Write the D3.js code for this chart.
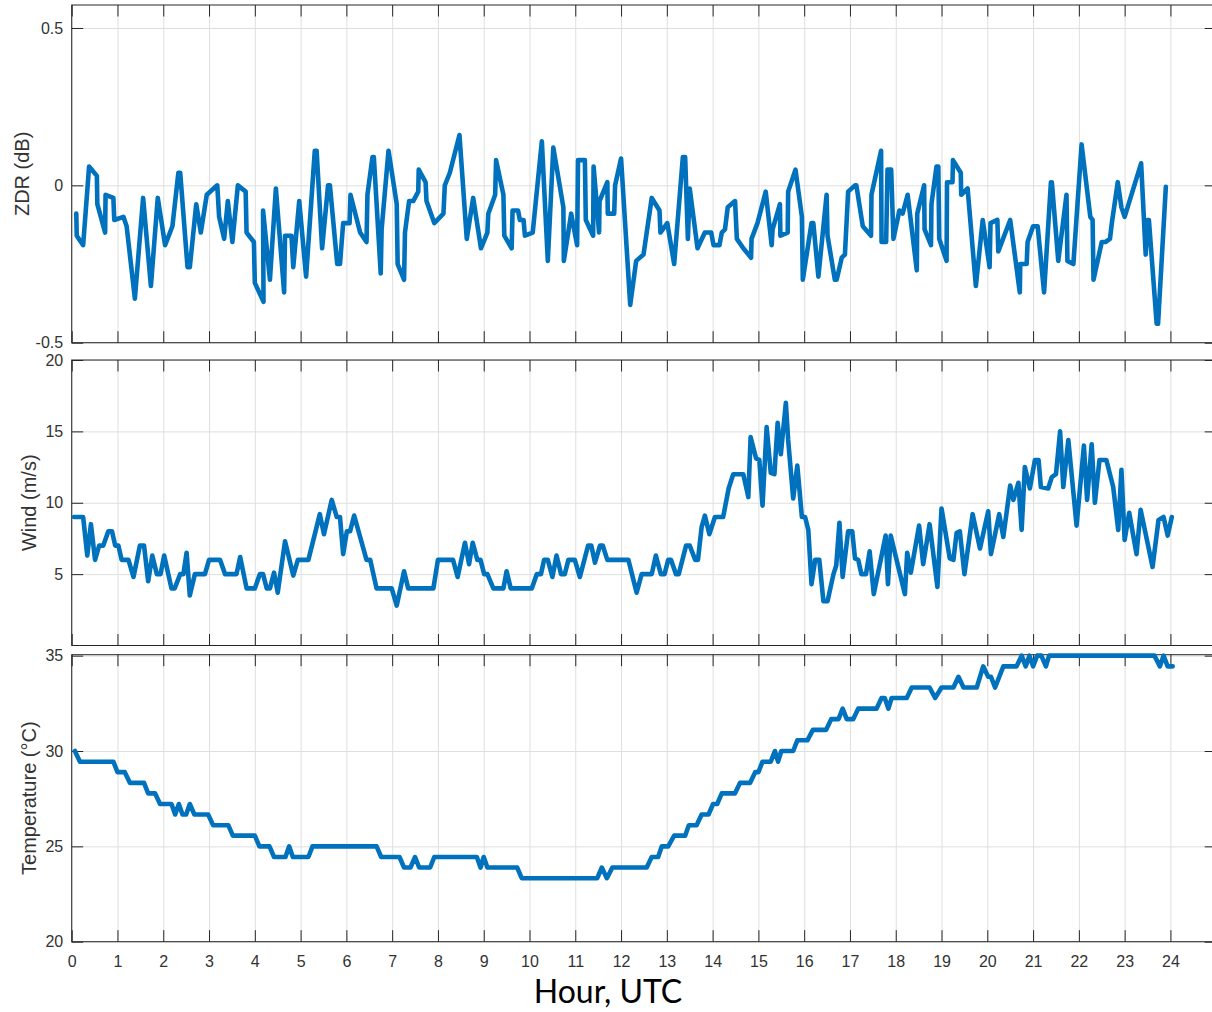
<!DOCTYPE html>
<html>
<head>
<meta charset="utf-8">
<script src="https://cdn.jsdelivr.net/npm/d3@7"></script>
<style>
  body { margin: 0; background: #fff; }
  svg { display: block; }
</style>
</head>
<body>
<svg id="chart" width="1212" height="1012"></svg>
<script>
// ---- data ---------------------------------------------------------------
const hourTicks = [0, 1, 2, 3, 4, 5, 6, 7, 8, 9, 10, 11, 12, 13, 14, 15, 16, 17, 18, 19, 20, 21, 22, 23, 24];
const zdrTicks  = [-0.5, 0, 0.5];
const windTicks = [5, 10, 15, 20];
const tempTicks = [20, 25, 30, 35];

// differential reflectivity (dB)
const zdrHours = [0.10,0.11,0.25,0.38,0.55,0.56,0.73,0.74,0.91,0.93,1.13,1.20,1.38,1.56,1.73,1.88,2.04,2.20,2.33,2.37,2.53,2.58,2.72,2.82,2.95,3.18,3.22,3.33,3.41,3.51,3.63,3.80,3.82,3.98,4.00,4.19,4.18,4.33,4.46,4.64,4.66,4.80,4.84,4.97,5.12,5.31,5.35,5.47,5.60,5.64,5.80,5.86,5.93,6.07,6.09,6.30,6.44,6.46,6.57,6.60,6.75,6.77,6.92,7.10,7.12,7.26,7.28,7.37,7.46,7.57,7.58,7.73,7.75,7.92,8.12,8.15,8.26,8.47,8.63,8.77,8.94,9.08,9.10,9.25,9.27,9.43,9.45,9.61,9.63,9.75,9.79,9.87,9.90,10.07,10.27,10.40,10.52,10.74,10.75,10.91,11.04,11.06,11.21,11.23,11.39,11.40,11.52,11.53,11.70,11.71,11.85,11.87,12.00,12.20,12.33,12.49,12.56,12.67,12.84,12.86,13.01,13.16,13.35,13.40,13.46,13.50,13.67,13.83,13.97,14.02,14.15,14.20,14.27,14.33,14.49,14.53,14.67,14.84,14.85,14.98,15.16,15.29,15.31,15.47,15.48,15.64,15.65,15.81,15.95,15.97,16.16,16.20,16.31,16.49,16.51,16.67,16.71,16.82,16.89,16.96,17.11,17.14,17.28,17.46,17.47,17.68,17.69,17.79,17.82,17.90,17.95,18.08,18.15,18.26,18.46,18.47,18.62,18.63,18.77,18.78,18.89,18.93,18.95,19.11,19.12,19.24,19.25,19.42,19.43,19.57,19.75,19.90,20.05,20.07,20.22,20.24,20.50,20.71,20.72,20.86,20.88,21.00,21.10,21.24,21.39,21.41,21.55,21.73,21.75,21.88,22.06,22.25,22.30,22.32,22.50,22.58,22.68,22.72,22.85,22.93,23.00,23.17,23.36,23.46,23.50,23.53,23.70,23.73,23.90];
const zdrValues = [-0.09,-0.16,-0.19,0.06,0.03,-0.06,-0.15,-0.03,-0.04,-0.11,-0.10,-0.13,-0.36,-0.04,-0.32,-0.04,-0.19,-0.13,0.04,0.04,-0.26,-0.26,-0.06,-0.15,-0.03,0.00,-0.10,-0.17,-0.05,-0.18,0.00,-0.02,-0.15,-0.18,-0.31,-0.37,-0.08,-0.30,-0.01,-0.34,-0.16,-0.16,-0.26,-0.05,-0.29,0.11,0.11,-0.20,0.00,0.00,-0.25,-0.25,-0.12,-0.12,-0.03,-0.15,-0.18,-0.03,0.09,0.09,-0.28,-0.14,0.11,-0.06,-0.25,-0.30,-0.15,-0.05,-0.05,-0.02,0.05,0.01,-0.05,-0.12,-0.09,0.00,0.04,0.16,-0.17,-0.04,-0.20,-0.15,-0.09,-0.03,0.08,-0.03,-0.16,-0.20,-0.08,-0.08,-0.11,-0.11,-0.16,-0.15,0.14,-0.24,0.12,-0.07,-0.24,-0.09,-0.19,0.08,0.08,-0.11,-0.16,0.06,-0.15,-0.05,0.01,-0.09,-0.09,0.00,0.085,-0.38,-0.24,-0.22,-0.15,-0.04,-0.08,-0.15,-0.12,-0.25,0.09,0.09,-0.17,-0.01,-0.20,-0.15,-0.15,-0.19,-0.19,-0.15,-0.14,-0.07,-0.05,-0.17,-0.20,-0.23,-0.17,-0.12,-0.02,-0.19,-0.14,-0.06,-0.16,-0.15,-0.02,0.05,-0.10,-0.30,-0.12,-0.12,-0.29,-0.03,-0.16,-0.30,-0.30,-0.23,-0.22,-0.02,0.00,0.00,-0.13,-0.16,-0.03,0.11,-0.18,-0.18,0.05,0.05,-0.17,-0.08,-0.09,-0.03,-0.27,-0.09,0.00,-0.14,-0.19,-0.06,0.06,0.06,-0.17,-0.24,0.01,0.01,0.08,0.04,-0.03,-0.01,-0.32,-0.11,-0.26,-0.12,-0.11,-0.21,-0.11,-0.34,-0.25,-0.25,-0.18,-0.13,-0.13,-0.34,0.01,0.01,-0.24,-0.03,-0.24,-0.25,0.13,-0.10,-0.11,-0.30,-0.18,-0.18,-0.17,-0.12,0.01,-0.07,-0.10,-0.02,0.07,-0.22,-0.11,-0.11,-0.44,-0.44,-0.005];

// wind speed (m/s)
const windHours = [0.05,0.25,0.34,0.42,0.51,0.60,0.69,0.80,0.88,0.95,1.02,1.09,1.24,1.35,1.49,1.58,1.67,1.76,1.86,1.94,2.02,2.18,2.25,2.37,2.44,2.51,2.58,2.69,2.91,3.00,3.24,3.35,3.60,3.68,3.82,4.00,4.11,4.18,4.26,4.33,4.42,4.50,4.66,4.84,4.94,5.17,5.42,5.51,5.68,5.79,5.86,5.93,6.01,6.08,6.17,6.44,6.52,6.66,6.99,7.10,7.26,7.35,7.90,8.00,8.33,8.43,8.59,8.68,8.76,8.86,8.93,9.01,9.08,9.21,9.43,9.50,9.59,10.05,10.16,10.25,10.32,10.40,10.50,10.59,10.69,10.77,10.85,10.99,11.10,11.28,11.35,11.43,11.54,11.60,11.70,12.16,12.34,12.45,12.67,12.76,12.87,12.95,13.03,13.09,13.20,13.26,13.42,13.50,13.62,13.68,13.76,13.83,13.93,14.05,14.23,14.35,14.45,14.67,14.78,14.83,14.95,15.02,15.09,15.18,15.27,15.35,15.42,15.49,15.60,15.65,15.76,15.85,15.95,16.02,16.09,16.16,16.24,16.33,16.42,16.51,16.64,16.70,16.77,16.84,16.96,17.05,17.11,17.18,17.25,17.35,17.43,17.52,17.78,17.83,17.89,18.20,18.25,18.33,18.51,18.60,18.74,18.91,19.00,19.18,19.26,19.33,19.40,19.50,19.68,19.84,20.02,20.08,20.26,20.35,20.50,20.57,20.68,20.75,20.82,20.93,21.04,21.12,21.17,21.33,21.41,21.50,21.59,21.66,21.77,21.95,22.11,22.18,22.28,22.35,22.45,22.60,22.75,22.86,22.93,23.00,23.10,23.26,23.35,23.61,23.74,23.85,23.94,24.03];
const windValues = [9,9,6.3,8.5,6.0,7,7,8,8,7,7,6,6,4.8,7,7,4.5,6.3,5,5,6.3,4,4,5,5,6.5,3.5,5,5,6,6,5,5,6.2,4,4,5,5,4,4,5.1,3.7,7.3,4.9,6,6,9.2,7.8,10.2,9,9,6.4,8,8,9.1,6,6,4,4,2.8,5.2,4,4,6,6,4.8,7.2,5.7,7.2,6,6,5,5,4,4,5.2,4,4,5,5,6,6,4.8,6.3,5,5,6,6,4.8,7,7,5.8,7,7,6,6,3.7,5,5,6.3,5,5,6,6,5,5,7,7,6,6,8.3,9.1,7.8,9,9,11,12,12,10.4,14.6,13.1,13,9.8,15.3,12.1,12,15.6,13.4,17.0,14.4,10.3,12.6,9,9,8.1,4.3,6,6,3.1,3.1,5,5.6,8.6,4.8,8,8,6.1,6,5,5,6.6,3.6,7.7,4.3,7.7,3.6,6.5,5.1,8.4,5.7,8.5,4.1,9.6,6.1,6,7.9,8,5,9.2,6.8,9.4,6.4,9.2,7.6,11.2,10.2,11.4,8.1,12.5,11.0,13,13,11.1,11,11.8,12,15,11.1,14.4,8.4,14.0,10.2,14.1,10,13,13,11.1,8.1,12.3,7.4,9.3,6.4,9.5,5.5,8.8,9,7.7,9];

// air temperature (deg C)
const tempHours = [0.07,0.18,0.91,1.00,1.16,1.27,1.58,1.67,1.82,1.93,2.18,2.26,2.34,2.42,2.50,2.58,2.68,2.98,3.09,3.42,3.52,4.00,4.10,4.32,4.42,4.67,4.75,4.83,5.17,5.26,6.66,6.76,7.16,7.26,7.40,7.50,7.59,7.83,7.92,8.85,8.93,9.00,9.08,9.73,9.83,11.48,11.58,11.69,11.81,12.56,12.67,12.81,12.89,13.03,13.16,13.40,13.48,13.65,13.76,13.91,14.01,14.10,14.20,14.49,14.60,14.82,14.93,15.00,15.09,15.27,15.36,15.43,15.50,15.76,15.85,16.07,16.19,16.48,16.59,16.75,16.84,16.93,17.07,17.18,17.58,17.69,17.76,17.84,17.91,18.24,18.35,18.74,18.86,19.00,19.26,19.37,19.48,19.77,19.91,20.02,20.08,20.17,20.35,20.64,20.75,20.84,20.92,21.00,21.09,21.18,21.28,21.35,23.65,23.77,23.85,23.94,24.05];
const tempValues = [30.0,29.44,29.44,28.89,28.89,28.33,28.33,27.78,27.78,27.22,27.22,26.67,27.22,26.67,26.67,27.22,26.67,26.67,26.11,26.11,25.56,25.56,25.0,25.0,24.44,24.44,25.0,24.44,24.44,25.0,25.0,24.44,24.44,23.89,23.89,24.44,23.89,23.89,24.44,24.44,23.89,24.44,23.89,23.89,23.33,23.33,23.89,23.33,23.89,23.89,24.44,24.44,25.0,25.0,25.56,25.56,26.11,26.11,26.67,26.67,27.22,27.22,27.78,27.78,28.33,28.33,28.89,28.89,29.44,29.44,30.0,29.44,30.0,30.0,30.56,30.56,31.11,31.11,31.67,31.67,32.22,31.67,31.67,32.22,32.22,32.78,32.78,32.22,32.78,32.78,33.33,33.33,32.78,33.33,33.33,33.89,33.33,33.33,34.44,33.89,33.89,33.33,34.44,34.44,35.0,34.44,35.0,34.44,35.0,35.0,34.44,35.0,35.0,34.44,35.0,34.44,34.44];

// ---- layout -------------------------------------------------------------
const svg = d3.select("#chart");
const plotLeft = 71.7, plotRight = 1216.2;
const x = d3.scaleLinear().domain([0, 25]).range([plotLeft, plotRight]);

const lineColor = "#0072BD";
const axisColor = "#262626";
const gridColor = "#dfdfdf";
const tickLen = 11.5;
const tickFont = "Liberation Sans, Arial, Helvetica, sans-serif";

const panels = [
  { label: "ZDR (dB)",         hours: zdrHours,  values: zdrValues,  ticks: zdrTicks,
    domain: [-0.5, 0.573], top: 5,     bottom: 342.7, labelX: 28.5, fmt: d => d === 0 ? "0" : String(d) },
  { label: "Wind (m/s)",       hours: windHours, values: windValues, ticks: windTicks,
    domain: [0, 20],       top: 360,   bottom: 645.5, labelX: 35.5, fmt: d => String(d) },
  { label: "Temperature (\u00B0C)", hours: tempHours, values: tempValues, ticks: tempTicks,
    domain: [20, 35.05],   top: 654.7, bottom: 941.7, labelX: 35.5, fmt: d => String(d) }
];

panels.forEach((p, i) => {
  const y = d3.scaleLinear().domain(p.domain).range([p.bottom, p.top]);
  const g = svg.append("g");
  const w = plotRight - plotLeft, h = p.bottom - p.top;
  const isLast = i === panels.length - 1;

  // grid
  g.append("g")
    .attr("transform", `translate(0,${p.bottom})`)
    .call(d3.axisBottom(x).tickValues(hourTicks).tickSize(-h).tickFormat(""))
    .call(s => s.select(".domain").remove())
    .call(s => s.selectAll("line").attr("stroke", gridColor).attr("stroke-width", 1));
  g.append("g")
    .attr("transform", `translate(${plotLeft},0)`)
    .call(d3.axisLeft(y).tickValues(p.ticks).tickSize(-w).tickFormat(""))
    .call(s => s.select(".domain").remove())
    .call(s => s.selectAll("line").attr("stroke", gridColor).attr("stroke-width", 1));

  // inward ticks on all four sides
  const styleAxis = s => {
    s.select(".domain").remove();
    s.selectAll("line").attr("stroke", axisColor).attr("stroke-width", 1);
    s.selectAll("text").attr("fill", "#333").style("font-family", tickFont).style("font-size", "16px");
  };
  g.append("g")
    .attr("transform", `translate(0,${p.bottom})`)
    .call(d3.axisBottom(x).tickValues(hourTicks).tickSizeInner(-tickLen).tickSizeOuter(0)
      .tickPadding(isLast ? 13.5 : 0).tickFormat(isLast ? d => String(d) : ""))
    .call(styleAxis);
  g.append("g")
    .attr("transform", `translate(0,${p.top})`)
    .call(d3.axisTop(x).tickValues(hourTicks).tickSizeInner(-tickLen).tickSizeOuter(0).tickFormat(""))
    .call(styleAxis);
  g.append("g")
    .attr("transform", `translate(${plotLeft},0)`)
    .call(d3.axisLeft(y).tickValues(p.ticks).tickSizeInner(-tickLen).tickSizeOuter(0).tickFormat(p.fmt))
    .call(styleAxis)
    .call(s => s.selectAll("text").attr("x", -8.5));
  g.append("g")
    .attr("transform", `translate(${plotRight},0)`)
    .call(d3.axisRight(y).tickValues(p.ticks).tickSizeInner(-tickLen).tickSizeOuter(0).tickFormat(""))
    .call(styleAxis);

  // box
  g.append("rect")
    .attr("x", plotLeft).attr("y", p.top)
    .attr("width", w).attr("height", h)
    .attr("fill", "none").attr("stroke", axisColor).attr("stroke-width", 1);

  // series
  const pts = p.hours.map((hr, k) => [hr, p.values[k]]);
  g.append("path")
    .datum(pts)
    .attr("fill", "none")
    .attr("stroke", lineColor)
    .attr("stroke-width", 4.6)
    .attr("stroke-linejoin", "round")
    .attr("stroke-linecap", "round")
    .attr("d", d3.line().x(d => x(d[0])).y(d => y(d[1])));

  // y-axis label
  g.append("text")
    .attr("transform", `translate(${p.labelX},${(p.top + p.bottom) / 2}) rotate(-90)`)
    .attr("text-anchor", "middle")
    .attr("fill", "#333")
    .style("font-family", tickFont)
    .style("font-size", "20px")
    .text(p.label);
});

// x-axis title
svg.append("text")
  .attr("x", 608).attr("y", 1003)
  .attr("text-anchor", "middle")
  .attr("fill", "#000")
  .style("font-family", "Lato, 'Open Sans', sans-serif")
  .style("font-size", "32px")
  .text("Hour, UTC");
</script>
</body>
</html>
